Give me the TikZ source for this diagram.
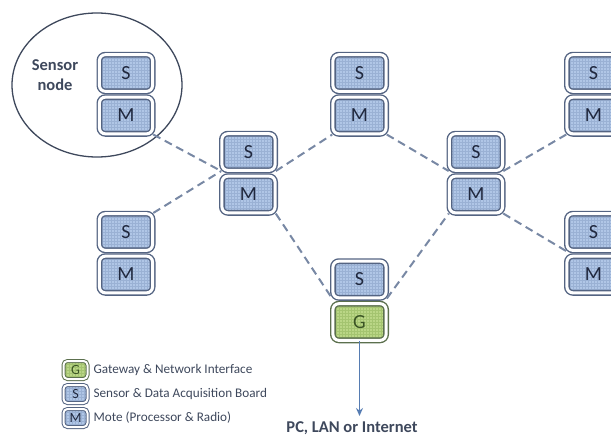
\documentclass[tikz,border=0pt]{standalone}
\usepackage{fontspec}
\setmainfont{Carlito}
\usetikzlibrary{patterns,arrows.meta}

\definecolor{edgec}{RGB}{84,100,130}
\definecolor{sfill}{RGB}{176,198,230}
\definecolor{sgrid}{RGB}{154,177,212}
\definecolor{gedge}{RGB}{92,112,78}
\definecolor{gfill}{RGB}{186,214,134}
\definecolor{ggrid}{RGB}{164,196,112}
\definecolor{linkc}{RGB}{120,136,164}
\definecolor{ringc}{RGB}{62,72,92}
\definecolor{arrowc}{RGB}{86,124,178}
\definecolor{txt}{RGB}{32,40,62}
\definecolor{gtxt}{RGB}{58,84,36}

\begin{document}
\begin{tikzpicture}[
  x=1pt, y=-1pt,
  cell/.style={draw=edgec, double=white, double distance=3pt, line width=1.4pt,
    rounded corners=6pt, minimum width=53.2pt, minimum height=36.7pt, inner sep=0pt,
    pattern=grid, font=\fontsize{20}{20}\selectfont, text=txt},
  board/.style={cell, preaction={fill=sfill}, pattern color=sgrid},
  gate/.style={cell, draw=gedge, text=gtxt, preaction={fill=gfill}, pattern color=ggrid},
  key/.style={minimum width=24pt, minimum height=18pt, double distance=2pt,
    line width=1pt, rounded corners=4pt, font=\fontsize{14}{14}\selectfont},
  keytext/.style={right, xshift=2pt, font=\fontsize{13.2}{13.2}\selectfont, text=ringc},
  link/.style={draw=linkc, dash pattern=on 8pt off 5pt, line width=2pt},
  tag/.style={font=\fontsize{16.5}{20}\bfseries, text=ringc}
]
  \useasboundingbox (0,0) rectangle (611,439);

  % sensor node in the circle
  \draw[ringc, line width=1.3pt] (97,85) ellipse [x radius=85, y radius=72];
  \node[tag, align=center] (sn) at (55,75) {Sensor\\node};
  \node[board] (tl-s) at (126,73) {S};
  \node[board] (tl-m) at (126,115.5) {M};

  % left column
  \node[board] (bl-s) at (126,232) {S};
  \node[board] (bl-m) at (126,274.5) {M};

  \node[board] (ml-s) at (248.5,152) {S};
  \node[board] (ml-m) at (248.5,194.5) {M};

  % middle
  \node[board] (tm-s) at (359.5,73) {S};
  \node[board] (tm-m) at (359.5,115.5) {M};

  \node[board] (gw-s) at (359.5,279.5) {S};
  \node[gate] (gw-g) at (359.5,322) {G};

  % right
  \node[board] (mr-s) at (476,152) {S};
  \node[board] (mr-m) at (476,194.5) {M};

  \node[board] (tr-s) at (593.5,73) {S};
  \node[board] (tr-m) at (593.5,115.5) {M};

  \node[board] (br-s) at (593.5,232) {S};
  \node[board] (br-m) at (593.5,274.5) {M};

  % radio links
  \draw[link] (tl-m.south east) -- (ml-s.south west);
  \draw[link] (bl-s.north east) -- (ml-s.south west);
  \draw[link] (ml-s.south east) -- (tm-m.south west);
  \draw[link] (ml-m.south east) -- (gw-s.south west);
  \draw[link] (tm-m.south east) -- (mr-s.south west);
  \draw[link] (gw-s.south east) -- (mr-m.south west);
  \draw[link] (mr-s.south east) -- (tr-m.south west);
  \draw[link] (mr-m.south east) -- (br-s.south west);

  % uplink
  \node[tag, font=\fontsize{16.5}{17}\bfseries] (net) at (352,428) {PC, LAN or Internet};
  \coordinate (tip) at (359.5,416);
  \draw[arrowc, line width=1.8pt, -{Stealth[length=8pt, width=7pt]}] (gw-g.south) -- (tip);

  % legend
  \node[gate, key] (key-g) at (75.5,370) {G};
  \node[board, key] (key-s) at (75.5,394) {S};
  \node[board, key] (key-m) at (75.5,418) {M};
  \node[keytext] at (key-g.east) {Gateway \& Network Interface};
  \node[keytext] at (key-s.east) {Sensor \& Data Acquisition Board};
  \node[keytext] at (key-m.east) {Mote (Processor \& Radio)};
\end{tikzpicture}
\end{document}
